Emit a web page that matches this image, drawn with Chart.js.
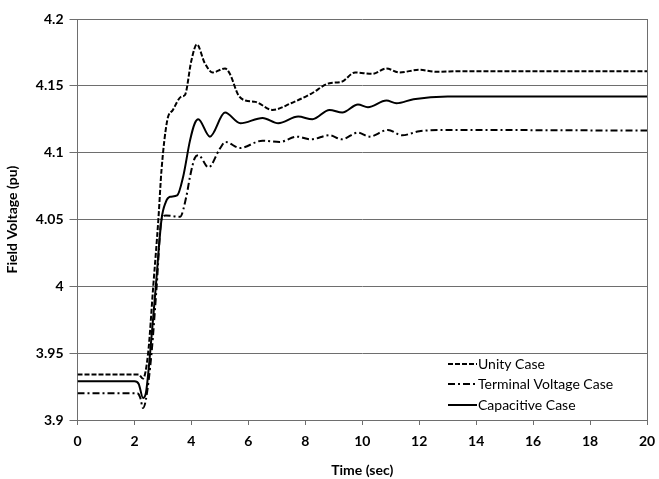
<!DOCTYPE html>
<html>
<head>
<meta charset="utf-8">
<script src="https://cdn.jsdelivr.net/npm/chart.js@4"></script>
<style>
  body { margin: 0; background: #fff; }
  #wrap { width: 659px; height: 479px; }
</style>
</head>
<body>
<div id="wrap"><canvas id="fv-chart" width="659" height="479"></canvas></div>
<script>
// values (time in sec, field voltage in pu)
var unityTime = [0, 2.15, 2.3, 2.48, 2.66, 2.84, 2.95, 3.15, 3.35, 3.65, 3.77, 4.0, 4.19, 4.47, 4.75, 5.18, 5.35, 5.65, 5.9, 6.25, 6.85, 7.5, 8.2, 8.85, 9.27, 9.75, 10.35, 10.85, 11.3, 12.0, 12.6, 13.5, 20];
var unityVolt = [3.934, 3.934, 3.931, 3.95, 4.0, 4.05, 4.087, 4.124, 4.132, 4.142, 4.143, 4.169, 4.181, 4.167, 4.160, 4.163, 4.159, 4.143, 4.139, 4.138, 4.132, 4.137, 4.144, 4.152, 4.153, 4.160, 4.159, 4.163, 4.160, 4.162, 4.1605, 4.161, 4.161];

var termTime = [0, 2.1, 2.2, 2.3, 2.4, 2.6, 2.78, 2.95, 3.1, 3.6, 3.83, 3.95, 4.12, 4.25, 4.6, 5.0, 5.2, 5.7, 6.5, 7.1, 7.7, 8.2, 8.85, 9.28, 9.85, 10.25, 10.9, 11.4, 12.0, 13.0, 20];
var termVolt = [3.920, 3.920, 3.917, 3.909, 3.915, 3.95, 4.0, 4.05, 4.053, 4.052, 4.068, 4.082, 4.096, 4.098, 4.089, 4.103, 4.108, 4.1035, 4.109, 4.108, 4.112, 4.110, 4.113, 4.110, 4.115, 4.112, 4.117, 4.113, 4.116, 4.117, 4.1165];

var capTime = [0, 2.0, 2.15, 2.3, 2.4, 2.55, 2.75, 2.95, 3.1, 3.25, 3.5, 3.71, 3.95, 4.12, 4.24, 4.65, 5.18, 5.72, 6.5, 7.05, 7.75, 8.25, 8.85, 9.3, 9.85, 10.2, 10.85, 11.2, 11.8, 13.0, 20];
var capVolt = [3.929, 3.929, 3.927, 3.9165, 3.92, 3.95, 4.0, 4.05, 4.063, 4.067, 4.068, 4.082, 4.109, 4.122, 4.125, 4.112, 4.130, 4.122, 4.126, 4.122, 4.127, 4.125, 4.132, 4.130, 4.136, 4.134, 4.139, 4.137, 4.140, 4.142, 4.142];

var seriesNames = ["Unity Case", "Terminal Voltage Case", "Capacitive Case"];
var xTicks = [0, 2, 4, 6, 8, 10, 12, 14, 16, 18, 20];

function pts(ts, vs) {
  return ts.map(function (t, i) { return { x: t, y: vs[i] }; });
}

var dashes = [[5, 2], [7, 3, 2, 3], []];
var gridGray = "#6e6e6e";
var font = "Lato";

// legend drawn inside the plot, bottom right, plus the right border of the plot
var plotExtras = {
  id: "plotExtras",
  afterDraw: function (chart) {
    var ctx = chart.ctx;
    var a = chart.chartArea;
    ctx.save();
    ctx.strokeStyle = gridGray;
    ctx.lineWidth = 1;
    ctx.beginPath();
    ctx.moveTo(Math.round(a.right) + 0.5, a.top);
    ctx.lineTo(Math.round(a.right) + 0.5, a.bottom);
    ctx.stroke();

    var x0 = 448, x1 = 477, rows = [364, 384, 405];
    ctx.font = "14px " + font;
    ctx.textBaseline = "middle";
    ctx.fillStyle = "#000";
    seriesNames.forEach(function (name, i) {
      ctx.strokeStyle = "#000";
      ctx.lineWidth = 2;
      ctx.setLineDash(dashes[i]);
      ctx.beginPath();
      ctx.moveTo(x0, rows[i]);
      ctx.lineTo(x1, rows[i]);
      ctx.stroke();
      ctx.setLineDash([]);
      ctx.fillText(name, x1 + 1, rows[i]);
    });
    ctx.restore();
  }
};

new Chart(document.getElementById("fv-chart"), {
  type: "line",
  data: {
    datasets: [
      { label: seriesNames[0], data: pts(unityTime, unityVolt), borderDash: dashes[0] },
      { label: seriesNames[1], data: pts(termTime, termVolt), borderDash: dashes[1] },
      { label: seriesNames[2], data: pts(capTime, capVolt), borderDash: dashes[2] },
    ],
  },
  options: {
    responsive: false,
    animation: false,
    layout: { padding: { top: 19, right: 12, left: 0, bottom: 0 } },
    elements: {
      point: { radius: 0 },
      line: { borderColor: "#000", borderWidth: 2, cubicInterpolationMode: "monotone", fill: false },
    },
    plugins: { legend: { display: false }, tooltip: { enabled: false } },
    scales: {
      x: {
        type: "linear",
        min: 0,
        max: 20,
        afterFit: function (s) { s.height = 59; s.paddingRight = 0; s.paddingLeft = 0; },
        afterBuildTicks: function (s) { s.ticks = xTicks.map(function (v) { return { value: v }; }); },
        grid: { drawOnChartArea: false, tickLength: 5, color: gridGray },
        border: { color: gridGray },
        ticks: { color: "#000", padding: 8, maxRotation: 0, font: { family: font, size: 14, weight: "bold" } },
        title: { display: true, text: "Time (sec)", color: "#000", padding: { top: 0, bottom: 0 }, font: { family: font, size: 14, weight: "bold" } },
      },
      y: {
        min: 3.9,
        max: 4.2,
        afterFit: function (s) { s.width = 77.5; },
        grid: { tickLength: 8, color: gridGray },
        border: { color: gridGray },
        ticks: {
          stepSize: 0.05,
          padding: 6,
          color: "#000",
          font: { family: font, size: 14, weight: "bold" },
          callback: function (v) { return String(+v.toFixed(2)); },
        },
        title: { display: true, text: "Field Voltage (pu)", color: "#000", padding: { top: 4, bottom: 0 }, font: { family: font, size: 14, weight: "bold" } },
      },
    },
  },
  plugins: [plotExtras],
});
</script>
</body>
</html>
